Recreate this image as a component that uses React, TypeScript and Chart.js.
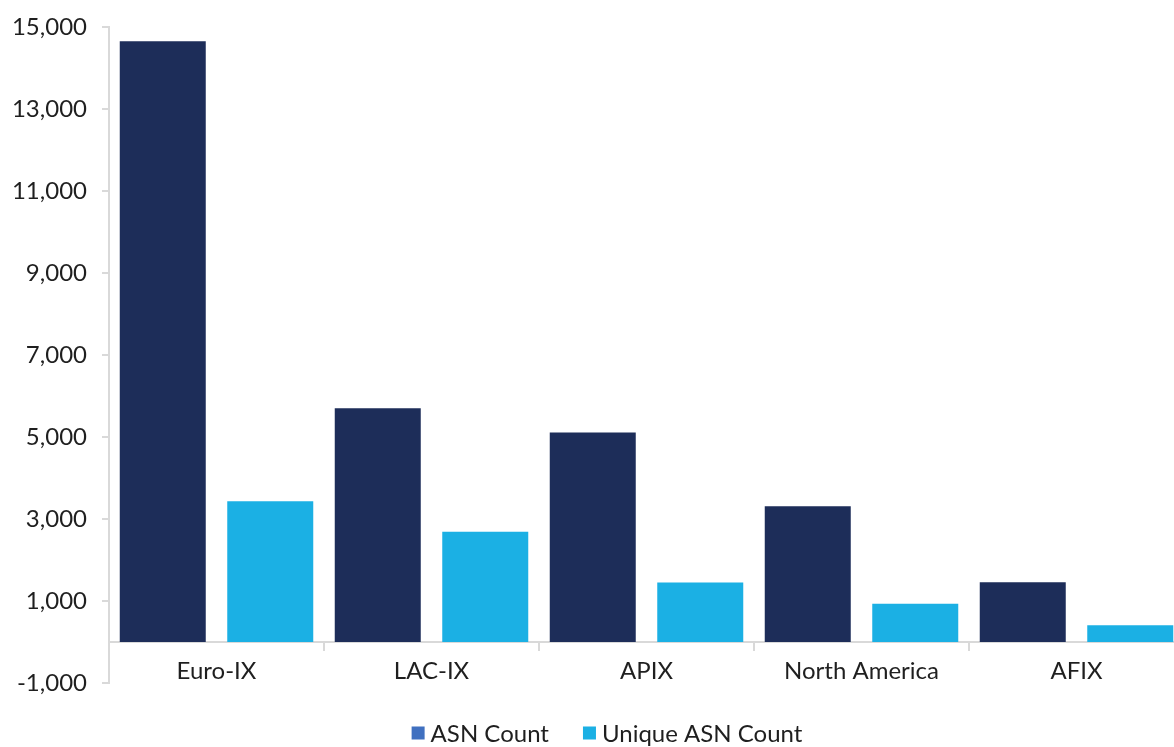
import React, { useEffect, useRef } from "react";
import { Chart, registerables } from "chart.js";

Chart.register(...registerables);

const categories = ["Euro-IX", "LAC-IX", "APIX", "North America", "AFIX"];
const asnCount = [14650, 5700, 5110, 3310, 1460];
const uniqueAsnCount = [3430, 2690, 1450, 930, 410];
const yTicks = [-1000, 1000, 3000, 5000, 7000, 9000, 11000, 13000, 15000];
const seriesNames = ["ASN Count", "Unique ASN Count"];

const NAVY = "#1D2D59";
const CYAN = "#1BB0E4";
const LEGEND_ASN = "#4070C0";
const legendColors = [LEGEND_ASN, CYAN];
const AXIS = "#D9D9D9";
const TEXT = "#1F1F1F";
const FONT = "Lato";

const legendPlugin = {
  id: "bottomLegend",
  afterDraw(chart: any) {
    const ctx = chart.ctx as CanvasRenderingContext2D;
    const area = chart.chartArea;
    ctx.save();
    ctx.font = `24px ${FONT}`;
    ctx.textBaseline = "middle";
    ctx.textAlign = "left";
    const box = 13;
    const gap = 6;
    const between = 34;
    const items = chart.data.datasets.map((d: any, i: number) => ({
      text: String(d.label),
      color: legendColors[i],
    }));
    const widths = items.map((it: any) => box + gap + ctx.measureText(it.text).width);
    const total = widths.reduce((a: number, b: number) => a + b, 0) + between * (items.length - 1);
    const cx = 607;
    const cy = area.bottom + 50;
    let x = cx - total / 2;
    items.forEach((it: any, i: number) => {
      ctx.fillStyle = it.color;
      ctx.fillRect(x, cy - box / 2, box, box);
      ctx.fillStyle = TEXT;
      ctx.fillText(it.text, x + box + gap, cy + 1);
      x += widths[i] + between;
    });
    ctx.restore();
  },
};

export default function App() {
  const ref = useRef<HTMLCanvasElement | null>(null);

  useEffect(() => {
    if (!ref.current) return;
    const chart = new Chart(ref.current, {
      type: "bar",
      data: {
        labels: categories,
        datasets: [
          { label: seriesNames[0], data: asnCount, backgroundColor: NAVY, borderWidth: 0 },
          { label: seriesNames[1], data: uniqueAsnCount, backgroundColor: CYAN, borderWidth: 0 },
        ],
      },
      options: {
        responsive: false,
        animation: false,
        devicePixelRatio: 1,
        layout: { padding: { left: 0, right: 6, top: 27, bottom: 64 } },
        datasets: { bar: { categoryPercentage: 1, barPercentage: 0.8 } },
        scales: {
          x: {
            type: "category",
            position: { y: 0 } as any,
            offset: true,
            grid: {
              offset: true,
              drawOnChartArea: false,
              drawTicks: true,
              tickLength: 8,
              color: AXIS,
              lineWidth: 2,
            },
            border: { color: AXIS, width: 2 },
            ticks: {
              color: TEXT,
              padding: 7,
              font: { family: FONT, size: 24 },
              maxRotation: 0,
              autoSkip: false,
            },
          },
          y: {
            min: -1000,
            max: 15000,
            afterBuildTicks: (scale: any) => {
              scale.ticks = yTicks.map((v) => ({ value: v }));
            },
            afterFit: (scale: any) => {
              scale.width = 109;
            },
            grid: {
              drawOnChartArea: false,
              drawTicks: true,
              tickLength: 7,
              color: AXIS,
              lineWidth: 2,
            },
            border: { color: AXIS, width: 2 },
            ticks: {
              color: TEXT,
              padding: 15,
              font: { family: FONT, size: 24, lineHeight: 1 },
              callback: (v: any) => Number(v).toLocaleString("en-US"),
            },
          },
        },
        plugins: {
          tooltip: { enabled: false },
          legend: { display: false },
        },
      },
      plugins: [legendPlugin],
    });
    return () => chart.destroy();
  }, []);

  return (
    <div
      style={{
        position: "absolute",
        left: 0,
        top: 0,
        width: 1174,
        height: 747,
        overflow: "hidden",
        background: "#fff",
      }}
    >
      <canvas ref={ref} width={1190} height={747} style={{ display: "block" }} />
    </div>
  );
}
